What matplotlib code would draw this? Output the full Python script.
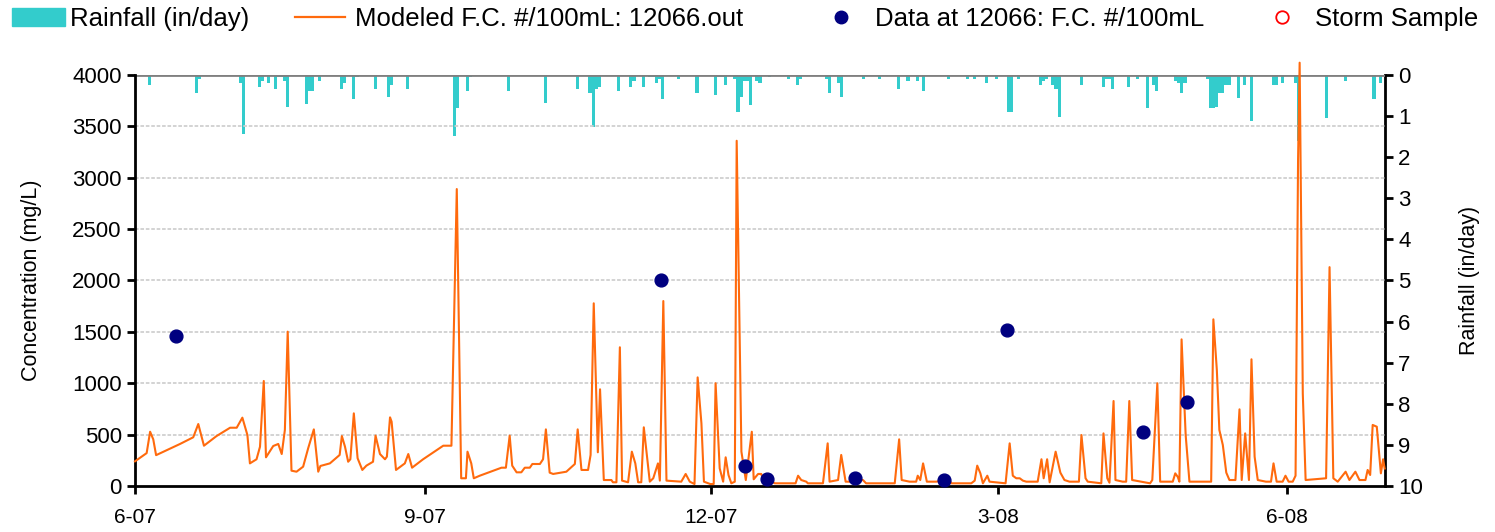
import numpy as np
import matplotlib
matplotlib.use("Agg")
import matplotlib.pyplot as plt
import matplotlib.dates as mdates
from matplotlib.patches import Patch
from matplotlib.lines import Line2D

plt.rcParams['font.family'] = ['Liberation Sans', 'DejaVu Sans']

START = "2007-06-01"

# modeled fecal coliform, (day offset from START, #/100mL)
model_day = [0, 3.7, 4.8, 5.8, 6.7, 14.3, 18.5, 20.1, 21.9, 25.9, 30.2, 32.3, 34.1, 35.7,
             36.5, 38.6, 39.7, 40.9, 41.6, 43.9, 45.5, 46.6, 47.6, 48.5, 49.7, 51.3, 53.4,
             55.0, 56.8, 58.2, 58.9, 61.9, 65.0, 65.7, 66.7, 67.7, 68.4, 69.5, 70.7, 72.2,
             73.5, 75.6, 76.4, 77.8, 79.4, 80.0, 81.0, 81.5, 82.9, 85.7, 86.8, 88.0, 91.5,
             97.9, 100.5, 102.2, 103.6, 105.1, 105.6, 106.8, 107.6, 109.5, 116.4, 117.8,
             119.0, 119.8, 121.2, 122.7, 123.8, 125.4, 126.2, 128.6, 129.6, 130.5, 131.7,
             132.8, 137.0, 139.7, 140.6, 141.8, 143.9, 144.7, 145.7, 147.0, 147.7, 148.9,
             151.3, 151.8, 152.9, 154.0, 154.7, 156.6, 157.8, 158.9, 159.8, 160.8, 161.6,
             162.4, 163.5, 164.6, 166.1, 166.7, 167.8, 168.8, 173.5, 174.9, 176.2, 177.7,
             178.7, 179.9, 180.7, 182.7, 183.8, 184.4, 185.7, 186.8, 187.6, 188.5, 189.4,
             190.5, 191.1, 192.6, 194.0, 195.9, 196.5, 197.9, 198.9, 199.4, 201.6, 203.2,
             209.8, 210.6, 211.6, 213.2, 213.7, 218.5, 220.0, 220.6, 223.3, 224.3, 225.7,
             227.5, 229.1, 231.2, 232.2, 241.3, 242.7, 243.5, 246.0, 248.1, 248.6, 249.4,
             250.3, 251.5, 254.5, 258.4, 259.3, 265.6, 266.7, 267.5, 268.5, 269.3, 270.7,
             271.4, 276.5, 277.8, 278.8, 279.9, 281.0, 282.0, 283.1, 286.7, 287.9, 288.6,
             289.7, 290.5, 292.4, 293.9, 295.2, 296.8, 299.8, 300.6, 301.9, 302.6, 306.9,
             307.6, 308.8, 309.5, 310.8, 311.4, 313.7, 314.8, 315.8, 316.7, 322.4, 323.1,
             324.7, 325.6, 329.6, 330.4, 331.2, 331.7, 332.4, 333.7, 334.9, 341.8, 342.5,
             343.6, 344.4, 345.5, 346.6, 347.6, 349.5, 350.8, 351.5, 352.6, 353.8, 354.6,
             355.6, 356.6, 359.2, 360.8, 361.6, 362.6, 364.5, 365.4, 366.4, 367.7, 368.6,
             369.4, 369.9, 370.9, 371.8, 378.3, 379.4, 380.6, 382.0, 384.5, 385.7, 387.6,
             388.9, 390.8, 391.5, 392.3, 393.1, 394.4, 395.7, 396.4, 396.9]
model_val = [240, 320, 528, 454, 300, 409, 474, 603, 392, 486, 567, 567, 665, 496,
             220, 260, 382, 1022, 279, 389, 409, 311, 545, 1502, 149, 139, 188,
             367, 551, 139, 195, 220, 302, 486, 382, 236, 260, 707, 270, 156,
             198, 236, 490, 311, 260, 285, 668, 626, 156, 220, 311, 178, 260,
             392, 392, 2890, 75, 75, 334, 220, 75, 100, 178, 178,
             490, 198, 133, 133, 178, 178, 214, 214, 260, 551, 130,
             117, 139, 214, 551, 156, 156, 302, 1778, 328, 941, 58,
             58, 36, 36, 1350, 52, 36, 334, 220, 36, 36, 571,
             350, 42, 75, 220, 52, 1800, 52, 42, 117, 42, 19,
             1057, 610, 42, 19, 19, 1000, 172, 42, 279, 107, 26,
             42, 3360, 334, 58, 528, 65, 117, 117, 75, 58, 26,
             26, 100, 58, 42, 26, 26, 415, 42, 58, 302, 42,
             42, 58, 58, 26, 26, 454, 58, 42, 42, 100, 58,
             220, 42, 42, 65, 26, 26, 52, 198, 123, 26, 100,
             42, 26, 415, 100, 75, 75, 52, 42, 42, 260, 75,
             260, 36, 334, 130, 58, 42, 42, 496, 75, 42, 26,
             512, 75, 32, 827, 58, 42, 42, 827, 58, 26, 58,
             1000, 42, 42, 123, 88, 42, 1427, 496, 42, 42, 1622,
             1129, 545, 399, 130, 58, 58, 746, 58, 512, 58, 1233,
             285, 58, 42, 42, 220, 42, 42, 100, 42, 42, 100,
             3180, 4120, 900, 58, 75, 2130, 75, 42, 139, 58, 139,
             58, 58, 156, 107, 594, 577, 123, 260, 170]

# observed samples at 12066
obs_day = [12.9, 167.0, 193.7, 200.8, 228.8, 256.8, 277.0, 320.3, 334.2]
obs_val = [1463, 2005, 198, 65, 81, 58, 1518, 528, 820]

# storm samples (none shown in the period)
storm_day = []
storm_val = []

# daily rainfall (in/day)
rain_day = [4, 19, 20, 33, 34, 39, 40, 42, 44, 45, 46, 47, 48, 54, 55, 56, 58, 65, 66,
            69, 70, 76, 80, 81, 86, 101, 102, 105, 106, 118, 130, 140, 144, 145, 146,
            147, 153, 157, 158, 161, 163, 164, 165, 166, 167, 172, 178, 184, 185, 186,
            187, 190, 191, 192, 193, 194, 195, 197, 198, 201, 207, 210, 211, 219, 220,
            223, 224, 231, 236, 242, 245, 248, 250, 258, 264, 266, 270, 273, 277, 278,
            280, 287, 288, 289, 291, 292, 293, 300, 307, 308, 309, 310, 315, 318, 321,
            323, 324, 330, 331, 332, 333, 340, 341, 342, 343, 344, 345, 346, 347, 350,
            352, 354, 361, 362, 364, 368, 369, 378, 384, 393, 395]
rain_val = [0.24, 0.43, 0.10, 0.19, 1.44, 0.28, 0.15, 0.19, 0.34, 0.04, 0.04, 0.14, 0.77,
            0.71, 0.40, 0.40, 0.14, 0.34, 0.19, 0.58, 0.04, 0.34, 0.53, 0.24, 0.34, 1.48,
            0.81, 0.40, 0.04, 0.40, 0.67, 0.34, 0.43, 1.26, 0.34, 0.28, 0.40, 0.28, 0.14,
            0.28, 0.04, 0.04, 0.19, 0.10, 0.58, 0.10, 0.43, 0.49, 0.04, 0.04, 0.24, 0.10,
            0.89, 0.53, 0.14, 0.14, 0.73, 0.14, 0.19, 0.04, 0.10, 0.24, 0.10, 0.10, 0.43,
            0.19, 0.53, 0.10, 0.10, 0.34, 0.14, 0.14, 0.40, 0.10, 0.10, 0.10, 0.19, 0.10,
            0.89, 0.89, 0.10, 0.24, 0.14, 0.10, 0.24, 0.34, 1.01, 0.24, 0.28, 0.10, 0.10,
            0.33, 0.28, 0.10, 0.81, 0.24, 0.40, 0.14, 0.19, 0.43, 0.19, 0.10, 0.81, 0.81,
            0.77, 0.43, 0.43, 0.24, 0.24, 0.57, 0.24, 1.11, 0.24, 0.24, 0.19, 0.19, 1.6,
            1.05, 0.14, 0.58, 0.19]

tick_dates = ["2007-06-01", "2007-09-01", "2007-12-01", "2008-03-01", "2008-06-01"]
tick_labels = ["6-07", "9-07", "12-07", "3-08", "6-08"]

t0 = mdates.datestr2num(START)
mx = t0 + np.array(model_day)
ox = t0 + np.array(obs_day)
rx = t0 + np.array(rain_day)

TEAL = "#33CCCC"
ORANGE = "#FF6A0D"
NAVY = "#000080"

fig = plt.figure(figsize=(14.95, 5.32), dpi=100)
ax = fig.add_axes([0.0903, 0.0865, 0.8361, 0.7725])
ax2 = ax.twinx()

ax2.bar(rx + 0.5, rain_val, width=1.0, color=TEAL, linewidth=0)
ax2.set_ylim(10, 0)
ax2.set_yticks(np.arange(0, 11, 1))

ax.set_zorder(ax2.get_zorder() + 1)
ax.patch.set_visible(False)

for g in np.arange(500, 4000, 500):
    ax.axhline(g, color="#d0d0d0", lw=1.3, ls=(0, (2, 1)), zorder=0)
ax.axhline(4000, color="#808080", lw=2, zorder=1)

ax.plot(mx, model_val, color=ORANGE, lw=1.5, clip_on=False, zorder=3)
ax.scatter(ox, obs_val, s=85, color=NAVY, zorder=4, clip_on=False)
ax.scatter(t0 + np.array(storm_day), storm_val, s=60, facecolors="none",
           edgecolors="red", zorder=4)

ax.set_ylim(0, 4000)
ax.set_yticks(np.arange(0, 4001, 500))
ax.set_xlim(t0, mdates.datestr2num("2008-07-02"))
ax.set_xticks([mdates.datestr2num(d) for d in tick_dates])
ax.set_xticklabels(tick_labels)

for a in (ax, ax2):
    for s in a.spines.values():
        s.set_visible(False)
    a.tick_params(labelsize=16, width=2, length=6, color="black")
ax.spines["left"].set_visible(True)
ax.spines["bottom"].set_visible(True)
ax.spines["left"].set_linewidth(2)
ax.spines["bottom"].set_linewidth(2)
ax2.spines["right"].set_visible(True)
ax2.spines["right"].set_linewidth(2)
ax.tick_params(axis="x", labelsize=15, pad=10)

ax.set_ylabel("Concentration (mg/L)", fontsize=15.5, labelpad=22)
ax2.set_ylabel("Rainfall (in/day)", fontsize=15.5, labelpad=26)

# legend entries laid out one by one, like the original header row
W = 1495.0
entries = [
    (Patch(color=TEAL), "Rainfall (in/day)", 12, 2.05, 0.2),
    (Line2D([], [], color=ORANGE, lw=1.6), "Modeled F.C. #/100mL: 12066.out", 295, 1.95, 0.4),
    (Line2D([], [], color=NAVY, marker="o", ls="none", markersize=9),
     "Data at 12066: F.C. #/100mL", 816, 1.95, 0.35),
    (Line2D([], [], color="red", marker="o", ls="none", markersize=9,
            markerfacecolor="none", markeredgewidth=1.3),
     "Storm Sample", 1257, 1.95, 0.3),
]
for h, lab, x0, hl, pad in entries:
    fig.legend([h], [lab], loc="center left", bbox_to_anchor=(x0 / W, 1 - 19 / 532.0),
               frameon=False, fontsize=18.5, handlelength=hl, handletextpad=pad,
               borderpad=0, borderaxespad=0)

fig.savefig("out.png", dpi=100)
